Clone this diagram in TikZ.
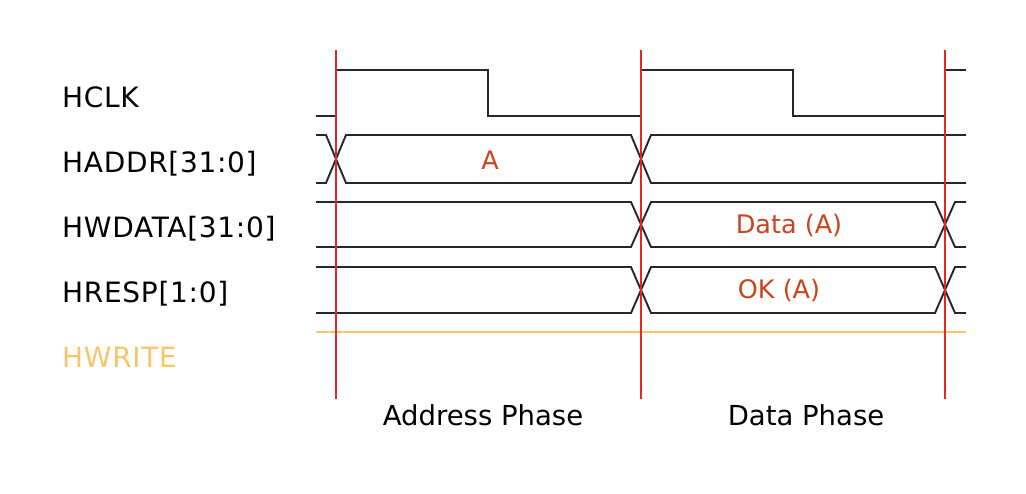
\documentclass[tikz,border=0pt]{standalone}
\usepackage{fontspec}
\setmainfont{DejaVu Sans}
\newfontfamily\labelfamily[LetterSpace=2.5]{DejaVu Sans}
\usepackage{tikz}
\definecolor{edgered}{HTML}{E02828}
\definecolor{valred}{HTML}{C8441E}
\definecolor{wrorange}{HTML}{F7C56B}
\newcommand{\sigfont}{\labelfamily\fontsize{28}{32}\selectfont}
\newcommand{\valfont}{\fontsize{25.5}{30}\selectfont}

\begin{document}
\begin{tikzpicture}[x=1pt, y=-1pt, wave/.style={draw=black!85, line width=1.9pt},
	every node/.style={inner sep=0pt, anchor=base west, font=\sigfont}]
	\useasboundingbox (0,0) rectangle (1026,493);
	%Signal names
	\node (hclk) at (62,107.5) {HCLK};
	\node (haddr) at (62,172.5) {HADDR[31:0]};
	\node (hwdata) at (62,237.5) {HWDATA[31:0]};
	\node (hresp) at (62,302.5) {HRESP[1:0]};
	\node [text=wrorange] (hwrite) at (62,367.5) {HWRITE};
	%Clock
	\draw[wave] (316,116) -- (336,116) -- (336,70) -- (488,70) -- (488,116) -- (641,116)
		-- (641,70) -- (793,70) -- (793,116) -- (945,116) -- (945,70) -- (966,70);
	%Address bus
	\draw[wave] (316,135) -- (326,135) -- (346,183) -- (631,183) -- (651,135) -- (966,135);
	\draw[wave] (316,183) -- (326,183) -- (346,135) -- (631,135) -- (651,183) -- (966,183);
	%Write data bus
	\draw[wave] (316,202) -- (631,202) -- (651,247) -- (935,247) -- (955,202) -- (966,202);
	\draw[wave] (316,247) -- (631,247) -- (651,202) -- (935,202) -- (955,247) -- (966,247);
	%Response
	\draw[wave] (316,267) -- (631,267) -- (651,313) -- (935,313) -- (955,267) -- (966,267);
	\draw[wave] (316,313) -- (631,313) -- (651,267) -- (935,267) -- (955,313) -- (966,313);
	%Write
	\draw[wrorange, line width=1.9pt] (316,332) -- (966,332);
	%Bus values
	\node [anchor=base, font=\valfont, text=valred] (addra) at (490,169) {A};
	\node [anchor=base, font=\valfont, text=valred] (dataa) at (789,233) {Data (A)};
	\node [anchor=base, font=\valfont, text=valred] (oka) at (779,298.5) {OK (A)};
	%Clock edges
	\foreach \x/\n in {336/e1, 641/e2, 945/e3} {
		\coordinate (\n top) at (\x,50);
		\coordinate (\n bot) at (\x,399);
		\draw[edgered, line width=1.4pt] (\n top) -- (\n bot);
	}
	%Phases
	\node [anchor=base, font=\fontsize{27.5}{32}\selectfont] (addrphase) at (483,425) {Address Phase};
	\node [anchor=base, font=\fontsize{27.5}{32}\selectfont] (dataphase) at (806,425) {Data Phase};
\end{tikzpicture}
\end{document}
